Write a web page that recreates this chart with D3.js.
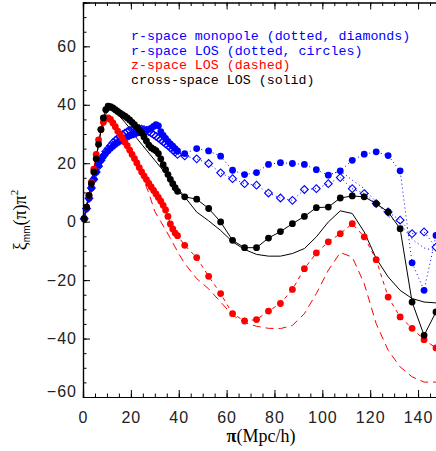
<!DOCTYPE html>
<html><head><meta charset="utf-8">
<script src="https://cdn.jsdelivr.net/npm/d3@7"></script>
<style>body{margin:0;background:#fff;}svg{display:block;}</style>
</head><body>
<svg id="c" width="436" height="451"></svg>
<script>
// bins: fine 1 Mpc/h up to 40, then 5 Mpc/h
const xBins = [0.5,1.5,2.5,3.5,4.5,5.5,6.5,7.5,8.5,9.5,10.5,11.5,12.5,13.5,14.5,15.5,16.5,17.5,18.5,19.5,
  20.5,21.5,22.5,23.5,24.5,25.5,26.5,27.5,28.5,29.5,30.5,31.5,32.5,33.5,34.5,35.5,36.5,37.5,38.5,39.5,
  42.5,47.5,52.5,57.5,62.5,67.5,72.5,77.5,82.5,87.5,92.5,97.5,102.5,107.5,112.5,117.5,122.5,127.5,132.5,137.5,142.5,147.5];
const xModel = [0,2.5,5,7.5,10,12.5,15,17.5,20,22.5,25,27.5,30,32.5,35,37.5,40,42.5,47.5,52.5,57.5,62.5,67.5,72.5,77.5,82.5,87.5,92.5,97.5,102.5,107.5,112.5,117.5,122.5,127.5,132.5,137.5,142.5,147.5];

// r-space monopole (diamonds, dotted)
const rMono = [1,4.5,8,11.5,14.5,17,19,21,22.5,24,25,26,27,27.8,28.5,29.2,29.8,30.3,30.8,31.2,
  31.5,31.7,31.8,31.8,31.7,31.5,31.2,30.8,30.3,29.8,29.2,28.6,28,27.3,26.6,26,25.3,24.5,23.8,23,
  22.5,21.5,19.9,16.7,14.7,13,12.5,9.8,8.1,7.3,11,11.3,13,15.1,11.3,9.6,6.2,3.3,0.5,-4.1,-3.5,-8.7];
// r-space LOS (circles, dotted)
const rLos = [1,4.5,8,11.5,14.5,17,19.3,21,22.3,23.4,24.3,25.1,25.8,26.5,27.1,27.6,28.1,28.6,29,29.4,
  29.7,30,30.3,30.6,30.9,31.1,31.3,31.6,32,32.6,33.2,32.8,30.8,29.5,28.5,27.5,26.6,25.8,25,24.2,
  23.3,25,24.2,22.4,17.6,16.1,16.8,19.6,20.2,19.9,19.6,17.8,15.9,17.4,21,23.1,23.9,22.6,17.4,-14.1,-23.5,-4.7];
// extra r-space dotted curve (no markers), visible beyond ~100
const xRLine = [102.5,107.5,112.5,117.5,122.5,127.5,132.5,137.5,142.5,147.5];
const rLine = [15.9,17.4,14.2,11.3,6.7,1.8,-0.5,-6,-9,-10];
// z-space LOS (circles with dashed) and dashed model
const zLos = [1,5,9,13.5,18,23,28,31.5,34,35.3,35.5,35,33.8,32.5,31,29.8,28.5,27.2,26,24.5,
  23,21.6,20.1,18.5,17,15.7,14.4,13.1,11.9,10.7,9.5,8.3,7,5.6,4,1.8,-0.8,-2.5,-3.9,-4.8,
  -8.1,-12.3,-18.7,-24.6,-31.5,-34,-33.5,-30.6,-28,-23.2,-16.1,-10.7,-6.9,-4.1,-0.7,-5.2,-13,-25.8,-32.6,-36.5,-40.4,-43.2];
const zLine = [0,9,20.5,31,35,33.5,30.5,27.5,23.5,19.5,15,9.8,3.5,0,-3.5,-7.2,-11,-14.3,-19.5,-23,-27.5,-32,-34.5,-35.8,-36.5,-36.6,-35.5,-31.5,-24.6,-16.6,-10.6,-12.1,-21.2,-34.9,-44,-49.7,-53.1,-54.9,-54.9];
// cross-space LOS (circles with solid) and solid model
const cLos = [1,5,9,13,17,21.5,26.5,31.5,35.5,38.3,39.5,39.4,38.9,38.3,37.7,37.1,36.6,36.1,35.5,34.8,
  34,33.2,32.3,31.4,30.3,29,27.6,26.2,25.3,24.8,24.3,23.3,21.5,19.5,17.8,16.1,14.5,13,11.6,10.4,
  8.5,7.7,4.5,-0.1,-6.4,-8.9,-8.9,-5.6,-3.4,-0.7,1.8,4.8,5,8.1,8.8,8.5,6.2,3.3,-2.4,-27.5,-38.9,-30.9];
const cLine = [0,9.5,19.5,31,38,38.3,36.3,34,31.5,28.5,26,23.5,21,18.5,16,13.5,11,8.5,3.3,0.3,-3,-6.9,-9.5,-11.2,-11.8,-11.8,-10.9,-9.2,-5.2,-0.1,3.7,2.8,-3.5,-12.6,-18.9,-23.5,-26.3,-27.5,-27.8];

const xTicks = [0,20,40,60,80,100,120,140];
const yTicks = [-60,-40,-20,0,20,40,60];
const legendLines = ["r-space monopole (dotted, diamonds)","r-space LOS (dotted, circles)","z-space LOS (dashed)","cross-space LOS (solid)"];
const legendColors = ["#0000ff","#0000ff","#ff0000","#000000"];

const svg = d3.select("#c");
const L = 83, R = 442, T = 2.5, B = 397;
const x = d3.scaleLinear().domain([0,150]).range([L,R]);
const y = d3.scaleLinear().domain([-60,75]).range([B,T]);

const line = d3.line().x(d=>x(d[0])).y(d=>y(d[1]));
const pairs = (xs, ys) => xs.map((v,i)=>[v, ys[i]]);

const g = svg.append("g");
// curves
g.append("path").attr("d", line(pairs(xModel,cLine))).attr("fill","none").attr("stroke","#000").attr("stroke-width",1);
g.append("path").attr("d", line(pairs(xModel,zLine))).attr("fill","none").attr("stroke","#ff0000").attr("stroke-width",1).attr("stroke-dasharray","8,5");
g.append("path").attr("d", line(pairs(xRLine,rLine))).attr("fill","none").attr("stroke","#0000ff").attr("stroke-width",1).attr("stroke-dasharray","1,3");
g.append("path").attr("d", line(pairs(xBins,rMono))).attr("fill","none").attr("stroke","#0000ff").attr("stroke-width",1).attr("stroke-dasharray","1,3");
g.append("path").attr("d", line(pairs(xBins,rLos))).attr("fill","none").attr("stroke","#0000ff").attr("stroke-width",1).attr("stroke-dasharray","1,3");
g.append("path").attr("d", line(pairs(xBins,zLos))).attr("fill","none").attr("stroke","#ff0000").attr("stroke-width",1).attr("stroke-dasharray","4,4");
g.append("path").attr("d", line(pairs(xBins,cLos))).attr("fill","none").attr("stroke","#000").attr("stroke-width",1);

const diamond = d3.symbol(d3.symbolSquare, 30)();
g.selectAll(".dm").data(pairs(xBins,rMono)).join("path")
  .attr("d", diamond).attr("transform", d=>`translate(${x(d[0])},${y(d[1])}) rotate(45)`)
  .attr("fill","none").attr("stroke","#0000ff").attr("stroke-width",1.1);
g.selectAll(".rl").data(pairs(xBins,rLos)).join("circle")
  .attr("cx",d=>x(d[0])).attr("cy",d=>y(d[1])).attr("r",3.4).attr("fill","#0000ff");
g.selectAll(".zl").data(pairs(xBins,zLos)).join("circle")
  .attr("cx",d=>x(d[0])).attr("cy",d=>y(d[1])).attr("r",3.4).attr("fill","#ff0000");
g.selectAll(".cl").data(pairs(xBins,cLos)).join("circle")
  .attr("cx",d=>x(d[0])).attr("cy",d=>y(d[1])).attr("r",3.4).attr("fill","#000");

// axes
const fmt = d => d < 0 ? "\u2212" + Math.abs(d) : String(d);
const minorX = d3.range(0,151,5), minorY = d3.range(-60,76,5);
function styleAxis(sel){ sel.select(".domain").attr("stroke","#000").attr("stroke-width",1.2); sel.selectAll("line").attr("stroke","#000"); sel.selectAll("text").attr("fill","#222").attr("font-family","Liberation Sans, Arial, sans-serif").attr("font-size",16).attr("letter-spacing",1); }
svg.append("g").attr("transform",`translate(0,${B})`).call(d3.axisBottom(x).tickValues(minorX).tickSize(-3.5).tickFormat("")).call(styleAxis);
svg.append("g").attr("transform",`translate(0,${B})`).call(d3.axisBottom(x).tickValues(xTicks).tickSize(-7).tickPadding(15).tickFormat(fmt)).call(styleAxis);
svg.append("g").attr("transform",`translate(0,${T})`).call(d3.axisTop(x).tickValues(minorX).tickSize(-3.5).tickFormat("")).call(styleAxis);
svg.append("g").attr("transform",`translate(0,${T})`).call(d3.axisTop(x).tickValues(xTicks).tickSize(-7).tickFormat("")).call(styleAxis);
svg.append("g").attr("transform",`translate(${L},0)`).call(d3.axisLeft(y).tickValues(minorY).tickSize(-3.5).tickFormat("")).call(styleAxis);
const yAx = svg.append("g").attr("transform",`translate(${L},0)`).call(d3.axisLeft(y).tickValues(yTicks).tickSize(-7).tickPadding(6).tickFormat(fmt)).call(styleAxis);
yAx.selectAll(".tick").filter(d=>d===-60).select("text").attr("dy","-0.05em");

// legend
svg.append("g").selectAll("text").data(legendLines).join("text")
  .attr("x",131).attr("y",(d,i)=>40+i*14.7)
  .attr("fill",(d,i)=>legendColors[i])
  .attr("font-family","Liberation Mono, Courier New, monospace").attr("font-size",13.3)
  .text(d=>d);

// axis titles
const xt = svg.append("text").attr("x",261).attr("y",442).attr("text-anchor","middle")
  .attr("font-family","Liberation Serif, Times New Roman, serif").attr("font-size",18).attr("fill","#000");
xt.append("tspan").attr("font-weight","bold").text("\u03c0");
xt.append("tspan").text("(Mpc/h)");

const yt = svg.append("text").attr("transform","translate(26,220) rotate(-90)").attr("text-anchor","middle")
  .attr("font-family","Liberation Serif, Times New Roman, serif").attr("font-size",18).attr("fill","#000");
yt.append("tspan").text("\u03be");
yt.append("tspan").attr("font-size",10).attr("dy",4).attr("font-family","Liberation Sans, Arial, sans-serif").text("mm");
yt.append("tspan").attr("dy",-4).text("(\u03c0)\u03c0");
yt.append("tspan").attr("font-size",11).attr("dy",-8).text("2");
</script>
</body></html>
